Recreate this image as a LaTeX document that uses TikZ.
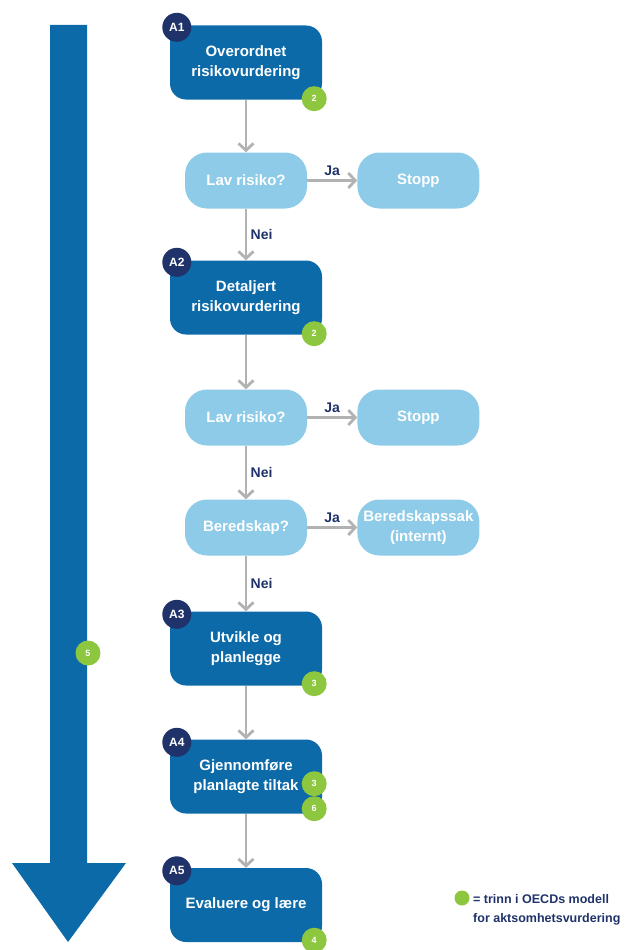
\documentclass[tikz,border=0pt]{standalone}
\usepackage{fontspec}
\setmainfont{Liberation Sans}
\usetikzlibrary{positioning,arrows.meta}
\definecolor{stepblue}{RGB}{12,106,168}
\definecolor{lightblue}{RGB}{142,203,232}
\definecolor{navy}{RGB}{31,50,105}
\definecolor{oecdgreen}{RGB}{141,198,63}
\definecolor{linegray}{RGB}{178,178,178}

\begin{document}
\begin{tikzpicture}[x=1pt, y=-1pt,
  mainbox/.style={rectangle, rounded corners=16pt, fill=stepblue, text=white, minimum width=152pt, minimum height=74pt, align=center, font=\fontsize{15}{20}\selectfont\bfseries},
  testbox/.style={rectangle, rounded corners=22pt, fill=lightblue, text=white, minimum width=122pt, minimum height=56pt, align=center, font=\fontsize{15}{20}\selectfont\bfseries},
  badge/.style={circle, fill=navy, text=white, minimum size=29pt, inner sep=0pt, font=\fontsize{12}{12}\selectfont\bfseries},
  trinn/.style={circle, fill=oecdgreen, text=white, minimum size=25pt, inner sep=0pt, font=\fontsize{9}{9}\selectfont\bfseries},
  flow/.style={draw=linegray, line width=2.8pt, -{Straight Barb[length=7pt,width=15pt]}},
  answer/.style={text=navy, font=\fontsize{14}{14}\selectfont\bfseries}]
\useasboundingbox (0,0) rectangle (626,950);

% time arrow on the left
\fill[stepblue] (50,25) -- (87,25) -- (87,863) -- (126,863) -- (68,942) -- (12,863) -- (50,863) -- cycle;
\node[trinn] (t5) at (88,653) {5};

% main column
\node[mainbox] (a1) at (246,62.5) {Overordnet\\risikovurdering};
\node[testbox] (lav1) at (246,180.5) {Lav risiko?};
\node[testbox, right=50pt of lav1] (stopp1) {Stopp};
\node[mainbox] (a2) at (246,297.5) {Detaljert\\risikovurdering};
\node[testbox] (lav2) at (246,417.5) {Lav risiko?};
\node[testbox, right=50pt of lav2] (stopp2) {Stopp};
\node[testbox] (bered) at (246,527.5) {Beredskap?};
\node[testbox, right=50pt of bered] (beredsak) {Beredskapssak\\(internt)};
\node[mainbox] (a3) at (246,648.5) {Utvikle og\\planlegge};
\node[mainbox] (a4) at (246,776.5) {Gjennomføre\\planlagte tiltak};
\node[mainbox] (a5) at (246,905) {Evaluere og lære};

\draw[flow] (a1) -- (lav1);
\draw[flow] (lav1) -- node[answer, above] {Ja} (stopp1);
\draw[flow] (lav1) -- node[answer, right] {Nei} (a2);
\draw[flow] (a2) -- (lav2);
\draw[flow] (lav2) -- node[answer, above] {Ja} (stopp2);
\draw[flow] (lav2) -- node[answer, right] {Nei} (bered);
\draw[flow] (bered) -- node[answer, above] {Ja} (beredsak);
\draw[flow] (bered) -- node[answer, right] {Nei} (a3);
\draw[flow] (a3) -- (a4);
\draw[flow] (a4) -- (a5);

% step badges
\node[badge, xshift=7pt, yshift=-2pt] (b1) at (a1.north west) {A1};
\node[badge, xshift=7pt, yshift=-2pt] (b2) at (a2.north west) {A2};
\node[badge, xshift=7pt, yshift=-3pt] (b3) at (a3.north west) {A3};
\node[badge, xshift=7pt, yshift=-3pt] (b4) at (a4.north west) {A4};
\node[badge, xshift=7pt, yshift=-3pt] (b5) at (a5.north west) {A5};

% OECD steps
\node[trinn, xshift=-8pt, yshift=1pt] (t1) at (a1.south east) {2};
\node[trinn, xshift=-8pt, yshift=1pt] (t2) at (a2.south east) {2};
\node[trinn, xshift=-8pt, yshift=2pt] (t3) at (a3.south east) {3};
\node[trinn, xshift=-8pt, yshift=30pt] (t4a) at (a4.south east) {3};
\node[trinn, xshift=-8pt, yshift=5pt] (t4b) at (a4.south east) {6};
\node[trinn, xshift=-8pt, yshift=2pt] (t6) at (a5.south east) {4};

% legend
\node[circle, fill=oecdgreen, minimum size=15pt, inner sep=0pt] (legdot) at (462,898) {};
\node[anchor=north west, inner sep=0pt, align=left, text=navy, font=\fontsize{12.5}{19}\selectfont\bfseries] (legtext) at (473,894) {= trinn i OECDs modell\\for aktsomhetsvurdering};
\end{tikzpicture}
\end{document}
